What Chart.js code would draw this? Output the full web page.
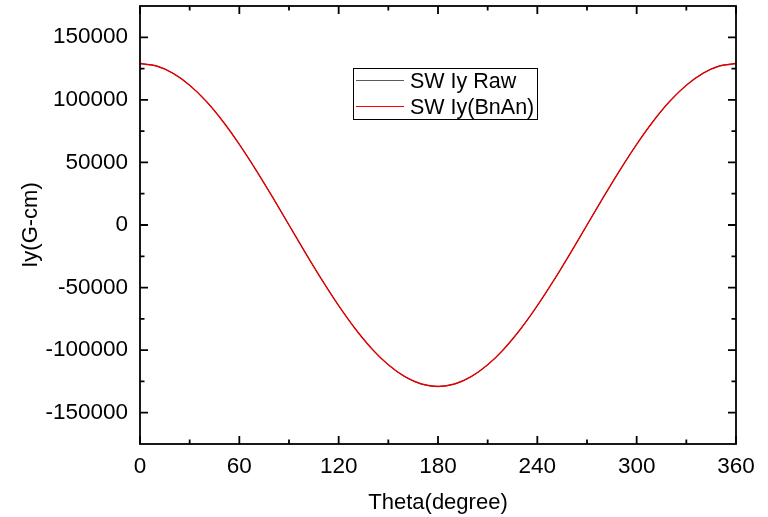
<!DOCTYPE html>
<html>
<head>
<meta charset="utf-8">
<script src="https://cdn.jsdelivr.net/npm/chart.js@4/dist/chart.umd.min.js"></script>
<style>
html,body{margin:0;padding:0;background:#fff;}
#wrap{width:768px;height:517px;position:relative;}
</style>
</head>
<body>
<div id="wrap"><canvas id="c" width="768" height="517"></canvas></div>
<script>
// Data
const theta = [0,10,20,30,40,50,60,70,80,90,100,110,120,130,140,150,160,170,180,
  190,200,210,220,230,240,250,260,270,280,290,300,310,320,330,340,350,360];
const rawIy = [129000,127040,121220,111720,98820,82920,64500,44120,22400,0,-22400,-44120,-64500,-82920,-98820,-111720,-121220,-127040,-129000,
  -127040,-121220,-111720,-98820,-82920,-64500,-44120,-22400,0,22400,44120,64500,82920,98820,111720,121220,127040,129000];
const bnanIy = [129000,127040,121220,111720,98820,82920,64500,44120,22400,0,-22400,-44120,-64500,-82920,-98820,-111720,-121220,-127040,-129000,
  -127040,-121220,-111720,-98820,-82920,-64500,-44120,-22400,0,22400,44120,64500,82920,98820,111720,121220,127040,129000];
const seriesNames = ['SW Iy Raw', 'SW Iy(BnAn)'];
const seriesColors = ['#000000', '#e00000'];
const xTicks = [0,60,120,180,240,300,360];
const xMinorTicks = [30,90,150,210,270,330];
const yTicks = [-150000,-100000,-50000,0,50000,100000,150000];
const yMinorTicks = [-125000,-75000,-25000,25000,75000,125000];
const xTitle = 'Theta(degree)';
const yTitle = 'Iy(G-cm)';

const FONT = '"Liberation Sans", Arial, sans-serif';

const framePlugin = {
  id: 'frame',
  afterDatasetsDraw(chart) {
    const {ctx, chartArea: a, scales: {x, y}} = chart;
    ctx.save();
    ctx.strokeStyle = '#000';
    ctx.lineWidth = 1.8;
    ctx.beginPath();
    const tick = (vals, len, isX) => {
      vals.forEach(v => {
        if (isX) {
          const px = x.getPixelForValue(v);
          ctx.moveTo(px, a.bottom); ctx.lineTo(px, a.bottom - len);
          ctx.moveTo(px, a.top); ctx.lineTo(px, a.top + len);
        } else {
          const py = y.getPixelForValue(v);
          ctx.moveTo(a.left, py); ctx.lineTo(a.left + len, py);
          ctx.moveTo(a.right, py); ctx.lineTo(a.right - len, py);
        }
      });
    };
    tick(xTicks, 8, true);
    tick(xMinorTicks, 4.5, true);
    tick(yTicks, 8, false);
    tick(yMinorTicks, 4.5, false);
    ctx.stroke();
    ctx.lineWidth = 1.8;
    ctx.strokeRect(a.left, a.top, a.right - a.left, a.bottom - a.top);

    // legend
    const lx = 353.5, ly = 68.5, lw = 184, lh = 51;
    ctx.fillStyle = '#fff';
    ctx.fillRect(lx, ly, lw, lh);
    ctx.lineWidth = 1;
    ctx.strokeStyle = '#000';
    ctx.strokeRect(lx, ly, lw, lh);
    ctx.font = '21.5px ' + FONT;
    ctx.textBaseline = 'middle';
    ctx.textAlign = 'left';
    chart.data.datasets.forEach((ds, i) => {
      const yy = 80.5 + i * 26;
      ctx.strokeStyle = i === 0 ? '#5a5a5a' : '#ff0000';
      ctx.lineWidth = 1.2;
      ctx.beginPath();
      ctx.moveTo(356, yy); ctx.lineTo(404, yy);
      ctx.stroke();
      ctx.fillStyle = '#000';
      ctx.fillText(ds.label, 410, yy + 1.5);
    });
    ctx.restore();
  }
};

new Chart(document.getElementById('c'), {
  type: 'line',
  data: {
    labels: theta,
    datasets: [
      {label: seriesNames[0], order: 1, data: theta.map((t, i) => ({x: t, y: rawIy[i]})), borderColor: seriesColors[0], borderWidth: 0.8, pointRadius: 0, cubicInterpolationMode: 'monotone', fill: false},
      {label: seriesNames[1], order: 0, data: theta.map((t, i) => ({x: t, y: bnanIy[i]})), borderColor: seriesColors[1], borderWidth: 1.4, pointRadius: 0, cubicInterpolationMode: 'monotone', fill: false}
    ]
  },
  options: {
    responsive: false,
    animation: false,
    devicePixelRatio: 1,
    layout: {padding: {top: 6, right: 32, left: 0, bottom: 0}},
    plugins: {legend: {display: false}, tooltip: {enabled: false}},
    scales: {
      x: {
        type: 'linear', min: 0, max: 360,
        grid: {display: false, drawTicks: false},
        border: {display: false},
        afterBuildTicks: s => { s.ticks = xTicks.map(v => ({value: v})); },
        afterFit: s => { s.height = 73; s.paddingLeft = 0; s.paddingRight = 0; },
        ticks: {color: '#000', padding: 9, font: {family: FONT, size: 22.5}, maxRotation: 0, autoSkip: false, callback: v => String(v)},
        title: {display: true, text: xTitle, color: '#000', font: {family: FONT, size: 22}, padding: {top: 0, bottom: 1}}
      },
      y: {
        type: 'linear', min: -175000, max: 175000,
        grid: {display: false, drawTicks: false},
        border: {display: false},
        afterBuildTicks: s => { s.ticks = yTicks.map(v => ({value: v})); },
        afterFit: s => { s.width = 140; s.paddingTop = 0; s.paddingBottom = 0; },
        ticks: {color: '#000', padding: 12, font: {family: FONT, size: 22.5}, autoSkip: false, callback: v => String(v)},
        title: {display: true, text: yTitle, color: '#000', font: {family: FONT, size: 22}, padding: {top: 18, bottom: 0}}
      }
    }
  },
  plugins: [framePlugin]
});
</script>
</body>
</html>
